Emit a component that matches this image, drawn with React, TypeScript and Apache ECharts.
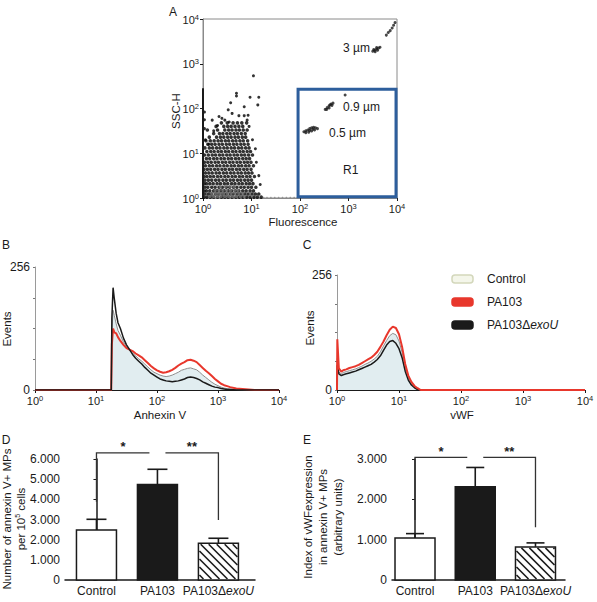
import React, { useEffect, useRef } from 'react';
import * as echarts from 'echarts';

const FONT = '"Liberation Sans", Arial, Helvetica, sans-serif';
const INK = '#1a1a1a';
const RED = '#e8372c';

// ---------- A: SSC-H vs fluorescence, both in decades (log10 of channel value) ----------
// Dense event cloud, one row per SSC decade position: [ssc, fluorescence positions]
const cloudRows: [number, number[]][] = [
  [0.02, [0.02, 0.08, 0.15, 0.22, 0.30, 0.38, 0.45, 0.52, 0.60, 0.68, 0.75, 0.82, 0.90, 0.97, 1.05, 1.12, 1.20]],
  [0.09, [0.04, 0.11, 0.18, 0.26, 0.33, 0.41, 0.48, 0.56, 0.63, 0.71, 0.78, 0.86, 0.93, 1.01, 1.08, 1.15]],
  [0.16, [0.02, 0.07, 0.14, 0.22, 0.29, 0.37, 0.44, 0.52, 0.59, 0.67, 0.74, 0.82, 0.89, 0.97, 1.04]],
  [0.24, [0.04, 0.10, 0.18, 0.25, 0.33, 0.40, 0.48, 0.55, 0.63, 0.70, 0.78, 0.85, 0.93, 1.00, 1.09]],
  [0.32, [0.02, 0.07, 0.14, 0.21, 0.29, 0.36, 0.44, 0.51, 0.59, 0.66, 0.74, 0.81, 0.89, 0.96, 1.03]],
  [0.40, [0.04, 0.11, 0.18, 0.26, 0.33, 0.41, 0.48, 0.56, 0.63, 0.71, 0.78, 0.86, 0.93, 1.00]],
  [0.48, [0.02, 0.08, 0.15, 0.22, 0.30, 0.37, 0.45, 0.52, 0.60, 0.67, 0.75, 0.82, 0.90, 0.97, 1.06]],
  [0.56, [0.05, 0.12, 0.19, 0.27, 0.34, 0.42, 0.49, 0.57, 0.64, 0.72, 0.79, 0.87, 0.94, 1.01]],
  [0.64, [0.02, 0.09, 0.16, 0.24, 0.31, 0.39, 0.46, 0.54, 0.61, 0.69, 0.76, 0.84, 0.91, 0.99]],
  [0.72, [0.05, 0.13, 0.20, 0.28, 0.35, 0.43, 0.50, 0.58, 0.65, 0.73, 0.80, 0.88, 0.95, 1.04]],
  [0.80, [0.03, 0.10, 0.17, 0.25, 0.32, 0.40, 0.47, 0.55, 0.62, 0.70, 0.77, 0.85, 0.92, 0.99]],
  [0.88, [0.07, 0.14, 0.22, 0.29, 0.37, 0.44, 0.52, 0.59, 0.67, 0.74, 0.82, 0.89, 0.96]],
  [0.96, [0.03, 0.11, 0.19, 0.26, 0.34, 0.41, 0.49, 0.56, 0.64, 0.71, 0.79, 0.86, 0.94, 1.02]],
  [1.04, [0.08, 0.16, 0.23, 0.31, 0.38, 0.46, 0.53, 0.61, 0.68, 0.76, 0.83, 0.91, 0.98]],
  [1.12, [0.04, 0.13, 0.20, 0.28, 0.35, 0.43, 0.50, 0.58, 0.65, 0.73, 0.80, 0.88, 0.95]],
  [1.20, [0.10, 0.18, 0.25, 0.33, 0.40, 0.48, 0.55, 0.63, 0.70, 0.78, 0.85, 0.93]],
  [1.28, [0.06, 0.15, 0.23, 0.31, 0.38, 0.46, 0.53, 0.61, 0.68, 0.76, 0.83, 0.92]],
  [1.36, [0.13, 0.28, 0.36, 0.43, 0.51, 0.58, 0.66, 0.73, 0.81, 0.88]],
  [1.44, [0.22, 0.34, 0.41, 0.49, 0.56, 0.64, 0.71, 0.79, 0.87]],
  [1.52, [0.09, 0.30, 0.45, 0.53, 0.60, 0.68, 0.75, 0.83, 0.91]],
  [1.60, [0.27, 0.43, 0.51, 0.58, 0.66, 0.74, 0.82]],
  [1.68, [0.38, 0.50, 0.62, 0.71, 0.80, 0.90]],
];
// Highest-density core, drawn in grey over the cloud
const coreRows: [number, number[]][] = [
  [0.03, [0.14, 0.22, 0.30, 0.37, 0.45, 0.53, 0.61, 0.69, 0.77, 0.85]],
  [0.10, [0.18, 0.26, 0.34, 0.42, 0.50, 0.58, 0.66, 0.74, 0.82]],
  [0.17, [0.25, 0.33, 0.41, 0.49, 0.57, 0.65, 0.72]],
  [0.25, [0.36, 0.46, 0.56, 0.64]],
];
// Isolated events above and around the cloud: [fluorescence, ssc]
const cloudOutliers: [number, number][] = [
  [1.04, 2.73], [0.69, 2.34], [0.69, 2.28], [0.97, 2.25], [1.15, 2.25], [0.57, 2.13],
  [1.13, 2.08], [0.85, 2.04], [0.52, 1.97], [0.60, 1.89], [0.74, 1.84], [0.85, 1.84],
  [0.93, 1.85], [0.19, 1.74], [0.39, 1.78], [0.45, 1.74], [0.91, 1.74], [0.54, 1.70],
  [0.30, 1.62], [0.22, 1.50], [0.05, 1.30], [0.12, 1.20], [1.02, 1.30], [1.08, 1.10],
  [1.10, 0.80], [1.15, 0.50], [1.18, 0.30], [0.95, 1.60], [0.33, 1.82], [0.03, 1.75],
  [0.03, 1.55], [0.03, 1.92],
];
// Events sitting on the SSC floor beyond the cloud
const floorEvents: number[] = [1.25, 1.32, 1.40, 1.48, 1.56, 1.64, 1.72, 1.80, 1.88, 1.95];
// SSC range of events piled up at the lowest fluorescence channel
const pileupSpan: number[] = [0, 2.45];
// Calibration beads: [fluorescence, ssc]
const beads05: [number, number][] = [
  [2.08, 1.48], [2.12, 1.50], [2.16, 1.52], [2.20, 1.55], [2.24, 1.57], [2.28, 1.58], [2.32, 1.57],
  [2.36, 1.55], [2.30, 1.52], [2.24, 1.50], [2.18, 1.47], [2.12, 1.46], [2.20, 1.51], [2.27, 1.54],
];
const beads09: [number, number][] = [
  [2.52, 1.98], [2.56, 2.02], [2.60, 2.06], [2.64, 2.10], [2.68, 2.12], [2.66, 2.07],
  [2.60, 2.01], [2.55, 1.98], [2.62, 2.08], [2.93, 2.30],
];
const beads3: [number, number][] = [
  [3.50, 3.28], [3.54, 3.30], [3.58, 3.33], [3.62, 3.35], [3.65, 3.37], [3.60, 3.30],
  [3.55, 3.27], [3.52, 3.32], [3.58, 3.36],
  [3.78, 3.64], [3.82, 3.70], [3.86, 3.74], [3.90, 3.80], [3.93, 3.86], [3.96, 3.92],
];
// Gate R1: [fl min, ssc min, fl max, ssc max]
const gateR1: number[] = [1.96, 0.03, 3.98, 2.43];

// ---------- B: Annexin V histograms (decade position, events) ----------
const bChannel = [0, 1.25, 1.26, 1.28, 1.30, 1.33, 1.36, 1.40, 1.45, 1.50, 1.55, 1.60, 1.65, 1.70, 1.75, 1.80, 1.85, 1.90, 1.95, 2.00, 2.05, 2.10, 2.15, 2.20, 2.25, 2.30, 2.35, 2.40, 2.45, 2.50, 2.55, 2.60, 2.65, 2.70, 2.75, 2.80, 2.85, 2.90, 2.95, 3.00, 3.05, 3.10, 3.15, 3.20, 3.30, 3.40, 3.50, 3.60, 4.00];
const bControl = [0, 0, 120, 166, 155, 138, 124, 114, 100, 90, 83, 77, 71, 65, 60, 54, 48, 42, 37, 34, 31, 29, 28, 29, 31, 34, 37, 41, 43, 45, 46, 44, 42, 37, 31, 26, 21, 16, 12, 9, 6, 4, 3, 2, 1, 0, 0, 0, 0];
const bPA103 = [0, 0, 95, 128, 120, 118, 110, 102, 94, 87, 84, 81, 76, 72, 68, 62, 56, 50, 45, 41, 38, 36, 37, 39, 42, 46, 51, 55, 58, 62, 63, 61, 58, 52, 46, 40, 35, 29, 23, 18, 13, 10, 8, 6, 3, 2, 1, 0, 0];
const bExoU = [0, 0, 150, 213, 190, 160, 140, 128, 108, 94, 84, 74, 66, 60, 54, 47, 41, 35, 31, 27, 23, 21, 19, 18, 17, 18, 19, 21, 23, 26, 27, 26, 24, 21, 17, 14, 11, 8, 6, 5, 3, 2, 1, 1, 0, 0, 0, 0, 0];

// ---------- C: vWF histograms ----------
const cChannel = [0, 0.005, 0.03, 0.07, 0.10, 0.15, 0.20, 0.25, 0.30, 0.35, 0.40, 0.45, 0.50, 0.55, 0.60, 0.65, 0.70, 0.75, 0.80, 0.85, 0.90, 0.95, 1.00, 1.05, 1.10, 1.15, 1.20, 1.25, 1.30, 1.35, 4.00];
const cControl = [0, 70, 40, 36, 39, 41, 43, 45, 47, 50, 53, 57, 60, 64, 69, 75, 85, 98, 110, 121, 126, 123, 109, 84, 50, 27, 14, 7, 2, 0, 0];
const cPA103 = [0, 113, 48, 41, 44, 46, 49, 51, 53, 56, 60, 64, 68, 72, 78, 85, 96, 108, 122, 134, 141, 138, 124, 96, 58, 32, 18, 9, 4, 0, 0];
const cExoU = [0, 55, 36, 32, 34, 36, 38, 40, 42, 45, 48, 51, 54, 57, 62, 68, 76, 88, 100, 108, 110, 104, 92, 72, 42, 22, 11, 5, 1, 0, 0];

// ---------- D / E: group means with SEM ----------
const groups = ['Control', 'PA103', 'PA103ΔexoU'];
const dMeans = [2480, 4740, 1820];
const dSem = [530, 750, 250];
const eMeans = [1040, 2310, 820];
const eSem = [110, 480, 100];
// Significance brackets: [outer group index, bracket height, drop end, mark index]
const dBrackets = [[0, 6300, 3880, 0], [2, 6300, 2980, 1]];
const eBrackets = [[0, 3040, 1490, 0], [2, 3040, 1310, 1]];
const sigMarks = ['*', '**'];
const histNames = ['Control', 'PA103', 'PA103ΔexoU'];

const zip = (xs: number[], ys: number[]) => xs.map((x, i) => [x, ys[i]]);
const rowsToPoints = (rows: [number, number[]][]) => rows.flatMap(([y, xs]) => xs.map((x) => [x, y]));

const decadeRich = {
  b: { fontSize: 11, fontFamily: FONT, color: INK, lineHeight: 12, verticalAlign: 'bottom' },
  s: { fontSize: 7.5, fontFamily: FONT, color: INK, lineHeight: 8, verticalAlign: 'top' },
};
const decadeLabel = (margin: number) => ({
  margin,
  formatter: (v: number) => `{b|10}{s|${Math.round(v)}}`,
  rich: decadeRich,
});
const groupRich = { i: { fontStyle: 'italic', fontSize: 12, fontFamily: FONT, color: INK } };
const groupLabel = (v: number) => {
  const name = groups[Math.round(v)] ?? '';
  return name.replace('exoU', '{i|exoU}');
};

function decadeXAxis(gridIndex: number, lineColor: string) {
  return {
    gridIndex, type: 'value', min: 0, max: 4, interval: 1,
    axisLine: { show: true, lineStyle: { color: lineColor, width: 1 } },
    axisTick: { show: true, length: 3, lineStyle: { color: INK } },
    axisLabel: decadeLabel(4),
    splitLine: { show: false },
  };
}

function histSeries(grid: number, xs: number[], control: number[], pa: number[], exo: number[], redOnTop: boolean) {
  return [
    {
      type: 'line', name: histNames[0], xAxisIndex: grid, yAxisIndex: grid, data: zip(xs, control),
      symbol: 'none', z: 2, lineStyle: { color: '#8e8e8e', width: 1 },
      areaStyle: { color: '#e1edf0', opacity: 1 },
    },
    {
      type: 'line', name: histNames[1], xAxisIndex: grid, yAxisIndex: grid, data: zip(xs, pa),
      symbol: 'none', z: redOnTop ? 5 : 3, lineStyle: { color: RED, width: 2 },
    },
    {
      type: 'line', name: histNames[2], xAxisIndex: grid, yAxisIndex: grid, data: zip(xs, exo),
      symbol: 'none', z: redOnTop ? 3 : 5, lineStyle: { color: INK, width: 1.5 },
    },
  ];
}

function hatch(x0: number, y0: number, w: number, h: number, step: number) {
  const segs: any[] = [];
  for (let c = -h + step / 2; c < w; c += step) {
    const xa = Math.max(0, c);
    const xb = Math.min(w, h + c);
    if (xb <= xa) continue;
    segs.push({
      type: 'line',
      shape: { x1: x0 + xa, y1: y0 + xa - c, x2: x0 + xb, y2: y0 + xb - c },
      style: { stroke: INK, lineWidth: 1.6 },
    });
  }
  return segs;
}

function barSeries(grid: number, means: number[], sems: number[], capHalf: number) {
  return {
    type: 'custom', xAxisIndex: grid, yAxisIndex: grid, clip: false, z: 4,
    data: means.map((m, i) => [i, m]),
    renderItem: (params: any, api: any) => {
      const i = params.dataIndex;
      const mean = means[i];
      const [cx, y0] = api.coord([i, 0]);
      const [, ym] = api.coord([i, mean]);
      const [, yt] = api.coord([i, mean + sems[i]]);
      const w = 40;
      const x0 = cx - w / 2;
      const children: any[] = [
        {
          type: 'rect', shape: { x: x0, y: ym, width: w, height: y0 - ym },
          style: { fill: i === 1 ? INK : '#fff', stroke: INK, lineWidth: 1.5 },
        },
      ];
      if (i === 2) children.push(...hatch(x0 + 1, ym + 1, w - 2, y0 - ym - 2, 8));
      children.push(
        { type: 'line', shape: { x1: cx, y1: ym, x2: cx, y2: yt }, style: { stroke: INK, lineWidth: 1.6 } },
        { type: 'line', shape: { x1: cx - capHalf, y1: yt, x2: cx + capHalf, y2: yt }, style: { stroke: INK, lineWidth: 1.6 } },
      );
      return { type: 'group', children };
    },
  };
}

function bracketSeries(grid: number, brackets: number[][]) {
  return {
    type: 'custom', xAxisIndex: grid, yAxisIndex: grid, clip: false, z: 4,
    data: brackets.map(([outer, top]) => [outer, top]),
    renderItem: (params: any, api: any) => {
      const [outer, top, drop, mark] = brackets[params.dataIndex];
      const [ox, oy] = api.coord([outer, drop]);
      const [, ty] = api.coord([outer, top]);
      const [mx] = api.coord([1, top]);
      const ex = outer < 1 ? mx - 8 : mx + 8;
      return {
        type: 'group',
        children: [
          {
            type: 'polyline', shape: { points: [[ox, oy], [ox, ty], [ex, ty]] },
            style: { stroke: '#333', lineWidth: 1.3, fill: 'none' },
          },
          {
            type: 'text', x: (ox + ex) / 2, y: ty - 6,
            style: {
              text: sigMarks[mark], fill: INK, fontSize: 13, fontWeight: 'bold', fontFamily: FONT,
              align: 'center', verticalAlign: 'middle', textAlign: 'center', textVerticalAlign: 'middle',
            },
          },
        ],
      };
    },
  };
}

function txt(text: string, x: number, y: number, o: any = {}) {
  return {
    type: 'text', x, y, rotation: o.rotation ?? 0, silent: true, z: 10,
    style: {
      text, fill: INK, fontSize: o.size ?? 12, fontFamily: FONT, fontWeight: o.weight ?? 'normal',
      align: o.align ?? 'center', textAlign: o.align ?? 'center',
      verticalAlign: 'middle', textVerticalAlign: 'middle',
      lineHeight: o.lh, rich: o.rich,
    },
  };
}

function buildOption() {
  const grids = [
    { left: 203, top: 19, width: 194, height: 179, show: true, borderColor: '#8a8a8a', borderWidth: 1 },
    { left: 35, top: 267, width: 244, height: 123 },
    { left: 337, top: 275, width: 248, height: 115 },
    { left: 65, top: 459, width: 190, height: 121 },
    { left: 392, top: 459, width: 173, height: 121 },
  ].map((g) => ({ ...g, containLabel: false, outerBoundsMode: 'none' }));

  const barXAxis = (gridIndex: number, min: number, max: number) => ({
    gridIndex, type: 'value', min, max,
    axisLine: { show: true, lineStyle: { color: INK, width: 1.5 } },
    axisTick: { show: false },
    splitLine: { show: false },
    axisLabel: {
      customValues: [0, 1, 2], formatter: groupLabel, rich: groupRich,
      fontSize: 12, fontFamily: FONT, color: INK, margin: 5,
    },
  });
  const barYAxis = (gridIndex: number, max: number) => ({
    gridIndex, type: 'value', min: 0, max, interval: 1000,
    axisLine: { show: true, lineStyle: { color: INK, width: 1.5 } },
    axisTick: { show: true, length: 3, lineStyle: { color: INK } },
    splitLine: { show: false },
    axisLabel: {
      formatter: (v: number) => (v === 0 ? '0' : `${v / 1000}.000`),
      fontSize: 12, fontFamily: FONT, color: INK, margin: 5,
    },
  });
  const eventsYAxis = (gridIndex: number) => ({
    gridIndex, type: 'value', min: 0, max: 256, interval: 64,
    axisLine: { show: true, lineStyle: { color: '#9a9a9a', width: 1 } },
    axisTick: { show: true, length: 2, lineStyle: { color: '#777' } },
    splitLine: { show: false },
    axisLabel: {
      formatter: (v: number) => (v === 0 || v === 256 ? String(v) : ''),
      fontSize: 12, fontFamily: FONT, color: INK, margin: 5,
    },
  });

  const scatterBase = { type: 'scatter', xAxisIndex: 0, yAxisIndex: 0, symbol: 'circle', silent: true };

  const legendRows = [
    { y: 279, fill: '#f4f6ea', stroke: '#d3d7bb', text: 'Control' },
    { y: 302, fill: RED, stroke: RED, text: 'PA103' },
    { y: 325, fill: INK, stroke: INK, text: 'PA103Δ{i|exoU}' },
  ];

  return {
    animation: false,
    backgroundColor: '#fff',
    textStyle: { fontFamily: FONT },
    grid: grids,
    xAxis: [
      decadeXAxis(0, '#8a8a8a'),
      decadeXAxis(1, INK),
      decadeXAxis(2, INK),
      barXAxis(3, -0.516, 2.6),
      barXAxis(4, -0.382, 2.49),
    ],
    yAxis: [
      {
        gridIndex: 0, type: 'value', min: 0, max: 4, interval: 1,
        axisLine: { show: true, lineStyle: { color: '#8a8a8a' } },
        axisTick: { show: true, length: 3, lineStyle: { color: INK } },
        splitLine: { show: false },
        axisLabel: decadeLabel(4),
      },
      eventsYAxis(1),
      eventsYAxis(2),
      barYAxis(3, 6000),
      barYAxis(4, 3000),
    ],
    series: [
      { ...scatterBase, data: rowsToPoints(cloudRows), symbolSize: 3.6, itemStyle: { color: '#000' }, z: 2 },
      { ...scatterBase, data: rowsToPoints(coreRows), symbolSize: 3.2, itemStyle: { color: '#6f6f6f' }, z: 3 },
      { ...scatterBase, data: cloudOutliers, symbolSize: 3, itemStyle: { color: '#000' }, z: 2 },
      { ...scatterBase, data: floorEvents.map((x) => [x, 0.01]), symbolSize: 1.6, itemStyle: { color: '#888' }, z: 2 },
      { ...scatterBase, data: [...beads05, ...beads09, ...beads3], symbolSize: 3, itemStyle: { color: INK }, z: 3 },
      {
        type: 'line', xAxisIndex: 0, yAxisIndex: 0, data: pileupSpan.map((y) => [0, y]),
        symbol: 'none', silent: true, lineStyle: { color: INK, width: 2 }, z: 4,
      },
      {
        type: 'custom', xAxisIndex: 0, yAxisIndex: 0, clip: false, z: 5,
        data: [[gateR1[0], gateR1[1]]],
        renderItem: (_p: any, api: any) => {
          const [x1, y1] = api.coord([gateR1[0], gateR1[3]]);
          const [x2, y2] = api.coord([gateR1[2], gateR1[1]]);
          return {
            type: 'rect', shape: { x: x1, y: y1, width: x2 - x1, height: y2 - y1 },
            style: { fill: 'none', stroke: '#2d5e9c', lineWidth: 3 },
          };
        },
      },
      ...histSeries(1, bChannel, bControl, bPA103, bExoU, false),
      ...histSeries(2, cChannel, cControl, cPA103, cExoU, true),
      barSeries(3, dMeans, dSem, 10),
      bracketSeries(3, dBrackets),
      barSeries(4, eMeans, eSem, 9),
      bracketSeries(4, eBrackets),
    ],
    graphic: [
      txt('A', 173, 12),
      txt('B', 6, 245),
      txt('C', 307, 245),
      txt('D', 6, 440),
      txt('E', 307, 440),
      // panel A annotations
      txt('SSC-H', 176, 111, { rotation: Math.PI / 2, size: 11.5 }),
      txt('Fluorescence', 303, 222, { size: 11.5 }),
      txt('3 µm', 343, 48, { align: 'left' }),
      txt('0.9 µm', 343, 107, { align: 'left' }),
      txt('0.5 µm', 329, 133, { align: 'left' }),
      txt('R1', 343, 170, { align: 'left' }),
      // histogram axis names
      txt('Events', 7, 329, { rotation: Math.PI / 2, size: 11.5 }),
      txt('Anhexin V', 160, 415, { size: 11.5 }),
      txt('Events', 310, 328, { rotation: Math.PI / 2, size: 11.5 }),
      txt('vWF', 462, 415, { size: 11.5 }),
      // legend
      ...legendRows.flatMap((r) => [
        {
          type: 'rect', silent: true, z: 10,
          shape: { x: 452, y: r.y - 4, width: 21, height: 8, r: 3 },
          style: { fill: r.fill, stroke: r.stroke, lineWidth: 1.5 },
        },
        txt(r.text, 487, r.y, { align: 'left', rich: groupRich }),
      ]),
      // bar chart axis names
      txt('Number of annexin V+ MPs\nper 10{s|5} cells', 14, 519, {
        rotation: Math.PI / 2, size: 11.5, lh: 14,
        rich: { s: { fontSize: 7, fontFamily: FONT, color: INK, verticalAlign: 'top', lineHeight: 9 } },
      }),
      txt('Index of vWFexpression\nin annexin V+ MPs\n(arbitrary units)', 323, 517, {
        rotation: Math.PI / 2, size: 11.5, lh: 15,
      }),
    ],
  };
}

export default function App() {
  const ref = useRef<HTMLDivElement>(null);
  useEffect(() => {
    if (!ref.current) return;
    const chart = echarts.init(ref.current, undefined, { renderer: 'svg' });
    chart.setOption(buildOption() as any);
    return () => chart.dispose();
  }, []);
  return (
    <div
      ref={ref}
      style={{ position: 'fixed', left: 0, top: 0, width: 597, height: 602, background: '#fff' }}
    />
  );
}
